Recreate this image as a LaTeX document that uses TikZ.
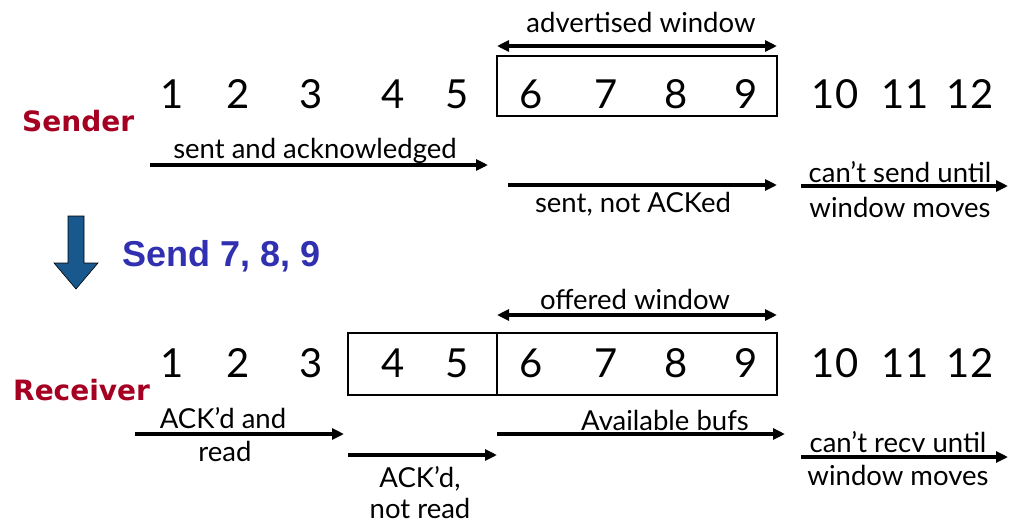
\documentclass[tikz,border=0pt]{standalone}
\usepackage{fontspec}
\setmainfont{Lato}
\newfontfamily\arialfont{Liberation Sans}
\newfontfamily\rolefont{DejaVu Sans}
\usetikzlibrary{arrows.meta}
\definecolor{labred}{RGB}{165,0,33}
\definecolor{sendblue}{RGB}{48,48,176}
\definecolor{arrblue}{RGB}{24,88,140}
\begin{document}
\begin{tikzpicture}[x=1pt,y=-1pt,
  num/.style={anchor=base,inner sep=0pt,font=\fontsize{40}{40}\selectfont},
  lbl/.style={anchor=base,inner sep=0pt,font=\fontsize{27.5}{27.5}\selectfont},
  role/.style={anchor=base west,inner sep=0pt,text=labred,font=\rolefont\fontsize{28}{28}\selectfont\bfseries},
  seg/.style={line width=3.4pt,-{Triangle[length=12pt,width=11pt]}},
  span/.style={line width=3.4pt,{Triangle[length=12pt,width=11pt]}-{Triangle[length=12pt,width=11pt]}},
  winbox/.style={draw,line width=1.5pt}]
\useasboundingbox (0,0) rectangle (1010,523);
% ---------- Sender ----------
\node[lbl] (advw) at (641,32) {advertised window};
\coordinate (aL) at (497,46); \coordinate (aR) at (777,46);
\draw[span] (aL) -- (aR);
\draw[winbox] (497,56) rectangle (777,116);
\foreach \n/\x in {1/172,2/238,3/311,4/393,5/457,6/531,7/606,8/676,9/746,10/835,11/905,12/970}
  \node[num] (s\n) at (\x,108) {\n};
\node[role] (sender) at (22,131) {Sender};
\node[lbl] (sak) at (315,158) {sent and acknowledged};
\coordinate (s1a) at (150,165); \coordinate (s1b) at (488,165);
\draw[seg] (s1a) -- (s1b);
\coordinate (s2a) at (508,185); \coordinate (s2b) at (777,185);
\draw[seg] (s2a) -- (s2b);
\node[lbl] (sna) at (633,212) {sent, not ACKed};
\coordinate (s3a) at (801,186); \coordinate (s3b) at (1008,186);
\draw[seg] (s3a) -- (s3b);
\node[lbl] (csu) at (900,182) {can’t send until};
\node[lbl] (wm1) at (900,217) {window moves};
% ---------- Send arrow ----------
\draw[fill=arrblue,draw=black,line width=0.6pt]
  (68,216) -- (84,216) -- (84,263) -- (98,263) -- (76,289) -- (54,263) -- (68,263) -- cycle;
\node[anchor=base west,inner sep=0pt,text=sendblue,font=\arialfont\fontsize{36}{36}\selectfont\bfseries] (send) at (122,266) {Send 7, 8, 9};
% ---------- Receiver ----------
\node[lbl] (offw) at (635,309) {offered window};
\coordinate (oL) at (497,315); \coordinate (oR) at (777,315);
\draw[span] (oL) -- (oR);
\draw[winbox] (348,333) rectangle (777,395);
\draw[winbox] (497,333) -- (497,395);
\foreach \n/\x in {1/172,2/238,3/311,4/393,5/457,6/531,7/606,8/676,9/746,10/835,11/905,12/970}
  \node[num] (r\n) at (\x,377) {\n};
\node[role] (receiver) at (13,400) {Receiver};
\node[lbl] (ackr1) at (223,428) {ACK’d and};
\node[lbl] (ackr2) at (225,461) {read};
\coordinate (r1a) at (135,434); \coordinate (r1b) at (344,434);
\draw[seg] (r1a) -- (r1b);
\coordinate (r2a) at (348,455); \coordinate (r2b) at (497,455);
\draw[seg] (r2a) -- (r2b);
\node[lbl] (acknr1) at (420,487) {ACK’d,};
\node[lbl] (acknr2) at (420,518) {not read};
\coordinate (r3a) at (497,434); \coordinate (r3b) at (785,434);
\draw[seg] (r3a) -- (r3b);
\node[lbl] (avb) at (665,430) {Available bufs};
\coordinate (r4a) at (801,457); \coordinate (r4b) at (1008,457);
\draw[seg] (r4a) -- (r4b);
\node[lbl] (cru) at (898,452) {can’t recv until};
\node[lbl] (wm2) at (898,485) {window moves};
\end{tikzpicture}
\end{document}
